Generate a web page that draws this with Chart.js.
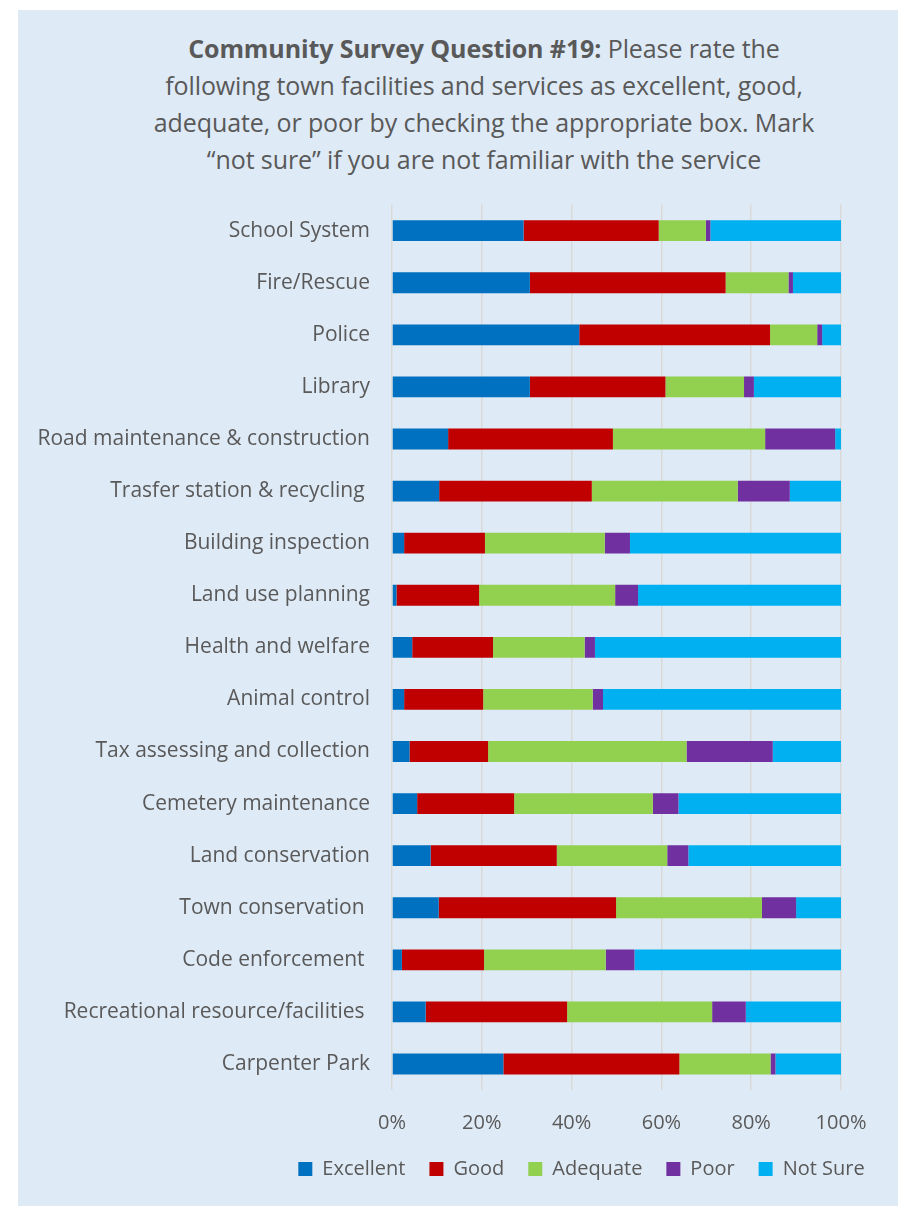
<!DOCTYPE html>
<html>
<head>
<meta charset="utf-8">
<script src="https://cdn.jsdelivr.net/npm/chart.js@4/dist/chart.umd.min.js"></script>
<style>
  body { margin: 0; background: #ffffff; width: 898px; height: 1206px; overflow: hidden; }
  #panel { position: absolute; left: 18px; top: 10px; width: 880px; height: 1196px; background: #deeaf6; }
  #title {
    position: absolute; left: 0; top: 20px; width: 880px; padding-left: 52px; box-sizing: border-box;
    text-align: center; font-family: "Open Sans", sans-serif; font-size: 25px; line-height: 37px; color: #595959;
    letter-spacing: -0.1px;
  }
  #title b { font-weight: 700; }
  #wrap { position: absolute; left: 0; top: 160px; width: 880px; height: 1036px; }
</style>
</head>
<body>
<div id="panel">
  <div id="title"><b>Community Survey Question #19:</b> Please rate the<br>following town facilities and services as excellent, good,<br>adequate, or poor by checking the appropriate box. Mark<br>“not sure” if you are not familiar with the service</div>
  <div id="wrap"><canvas id="chart"></canvas></div>
</div>
<script>
// Categories (top to bottom)
const categories = [
  "School System", "Fire/Rescue", "Police", "Library",
  "Road maintenance & construction", "Trasfer station & recycling ",
  "Building inspection", "Land use planning", "Health and welfare",
  "Animal control", "Tax assessing and collection", "Cemetery maintenance",
  "Land conservation", "Town conservation ", "Code enforcement ",
  "Recreational resource/facilities ", "Carpenter Park"
];

// Share of responses (%)
const excellent = [29.3, 30.7, 41.7, 30.7, 12.5, 10.5, 2.7, 1.0, 4.5, 2.7, 3.9, 5.6, 8.6, 10.4, 2.2, 7.5, 24.8];
const good      = [30.1, 43.6, 42.5, 30.2, 36.7, 34.0, 18.0, 18.4, 18.0, 17.6, 17.5, 21.6, 28.1, 39.5, 18.3, 31.5, 39.2];
const adequate  = [10.5, 14.0, 10.5, 17.5, 33.9, 32.5, 26.7, 30.3, 20.4, 24.4, 44.2, 30.9, 24.6, 32.5, 27.1, 32.3, 20.3];
const poor      = [1.0, 1.0, 1.1, 2.2, 15.6, 11.6, 5.6, 5.1, 2.3, 2.3, 19.2, 5.7, 4.7, 7.6, 6.4, 7.5, 1.1];
const notSure   = [29.1, 10.7, 4.2, 19.4, 1.3, 11.4, 47.0, 45.2, 54.8, 53.0, 15.2, 36.2, 34.0, 10.0, 46.0, 21.2, 14.6];

const seriesNames = ["Excellent", "Good", "Adequate", "Poor", "Not Sure"];
const seriesColors = ["#0070c0", "#c00000", "#92d050", "#7030a0", "#00b0f0"];
const seriesData = [excellent, good, adequate, poor, notSure];

const textColor = '#595959';
const labelFont = { family: "'Open Sans', sans-serif", size: 21 };
const font = { family: "'Open Sans', sans-serif", size: 20 };

// nudge the legend to the right like in the original
const legendShift = {
  id: 'legendShift',
  afterLayout(chart) {
    if (!chart.legend) return;
    chart.legend.left += 152;
    chart.legend.right += 152;
  }
};

const ctx = document.getElementById('chart').getContext('2d');
new Chart(ctx, {
  type: 'bar',
  data: {
    labels: categories,
    datasets: seriesNames.map((name, i) => ({
      label: name,
      data: seriesData[i],
      backgroundColor: seriesColors[i],
      borderWidth: 0,
      categoryPercentage: 1.0,
      barPercentage: 0.4
    }))
  },
  options: {
    indexAxis: 'y',
    responsive: true,
    maintainAspectRatio: false,
    animation: false,
    layout: { padding: { top: 13, right: 57, left: 0, bottom: 17 } },
    plugins: {
      legend: {
        position: 'bottom',
        labels: {
          color: textColor,
          font: font,
          boxWidth: 14,
          boxHeight: 14,
          padding: 24
        }
      },
      tooltip: { enabled: false }
    },
    scales: {
      x: {
        stacked: true,
        min: 0,
        max: 100,
        ticks: {
          stepSize: 20,
          color: textColor,
          font: font,
          padding: 21,
          callback: v => v + '%'
        },
        grid: { color: '#d9d9d9', lineWidth: 1.5, drawTicks: false },
        border: { display: false },
        afterFit: s => { s.height = 45; }
      },
      y: {
        stacked: true,
        ticks: { color: textColor, font: labelFont, padding: 22, autoSkip: false },
        grid: { display: false, drawTicks: false },
        border: { display: false },
        afterFit: s => { s.width = 374; }
      }
    }
  },
  plugins: [legendShift]
});
</script>
</body>
</html>
